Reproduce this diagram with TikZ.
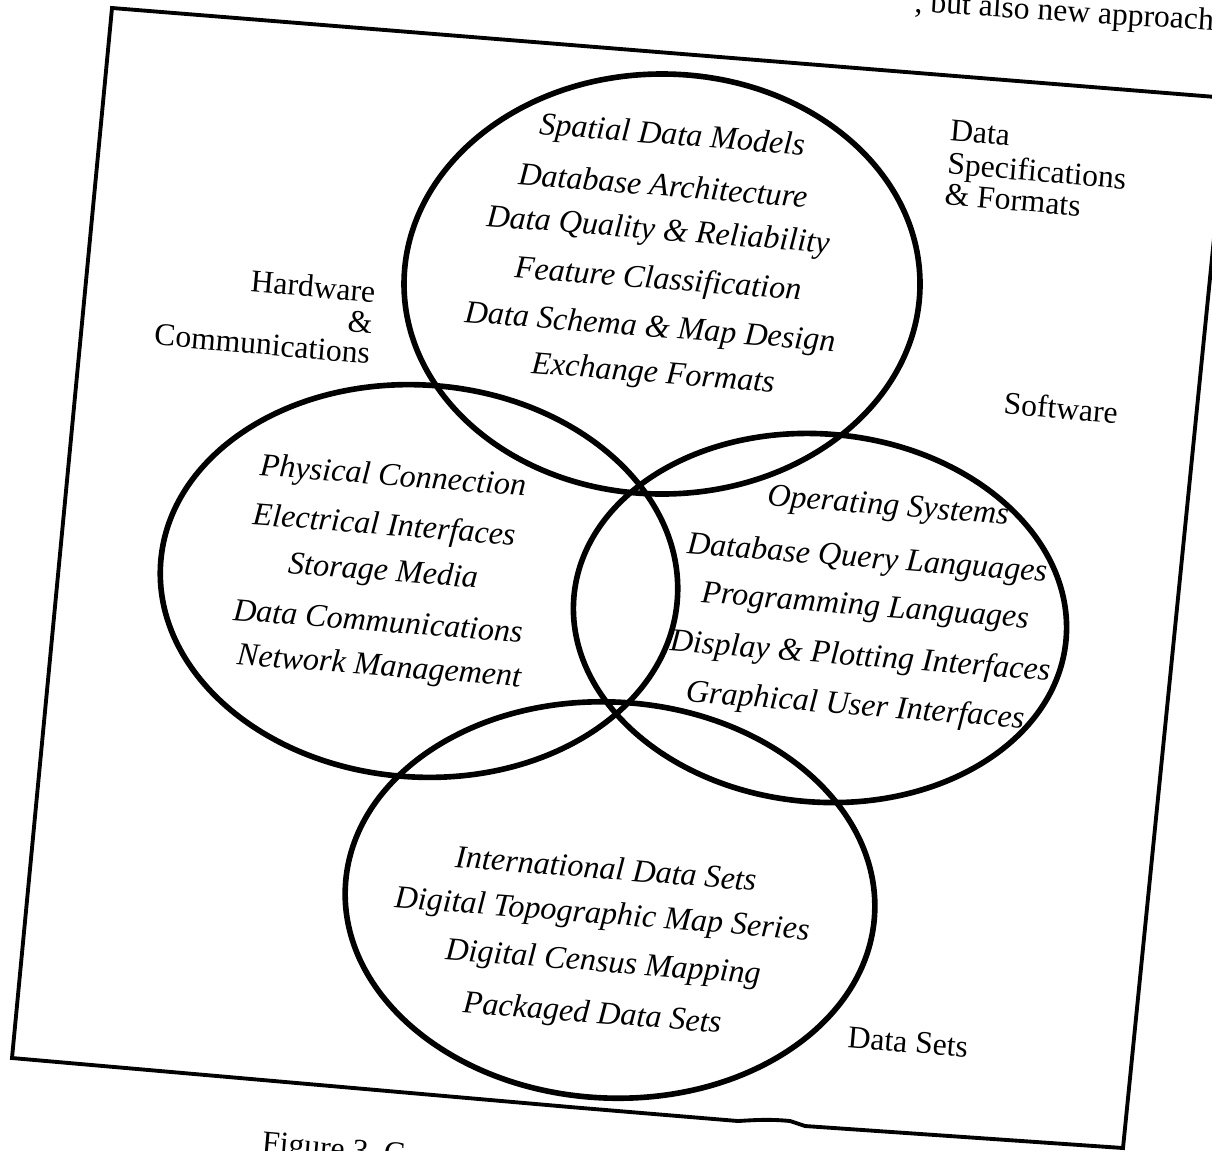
\documentclass[tikz,border=0pt]{standalone}
\usepackage{fontspec}
\setmainfont{Liberation Serif}
\begin{document}
\begin{tikzpicture}[x=0.02cm, y=-0.02cm,
  ring/.style={line width=3.2pt},
  border/.style={line width=2.2pt, line join=miter},
  item/.style={font=\fontsize{18.3}{20}\selectfont\itshape, rotate=-4.5, inner sep=0pt},
  tag/.style={font=\fontsize{18}{17.5}\selectfont, rotate=-5, inner sep=0pt},
  pagetext/.style={font=\fontsize{18}{20}\selectfont, inner sep=0pt},
]
\useasboundingbox (0,0) rectangle (1212,1150);
\begin{scope}
\clip (0,0) rectangle (1212,1150);

% running text and caption of the printed page
\node[pagetext, rotate=-3.5, anchor=base west] (runtext) at (914,12) {, but also new approaches};
\node[pagetext, rotate=-5, anchor=north west] (caption) at (263,1131) {Figure 3.\ C};

% frame around the diagram
\coordinate (tl) at (112,8);
\coordinate (tr) at (1228,98);
\coordinate (br) at (1123,1148);
\coordinate (bl) at (12,1058);
\draw[border] (tl) -- (tr) -- (br) -- (805,1126) -- (790,1121)
  .. controls (770,1119) and (755,1120) .. (738,1121) -- (570,1107) -- (bl) -- cycle;

% the four overlapping domains
\coordinate (cspec) at (662,284);
\coordinate (chard) at (419,581);
\coordinate (csoft) at (820,618);
\coordinate (cdata) at (610,900);
\draw[ring] (cspec) ellipse [x radius=258, y radius=210];
\draw[ring, rotate around={-4:(chard)}] (chard) ellipse [x radius=259, y radius=196];
\draw[ring, rotate around={-5:(csoft)}] (csoft) ellipse [x radius=247, y radius=184];
\draw[ring, rotate around={-3:(cdata)}] (cdata) ellipse [x radius=265, y radius=198];

% domain names
\node[tag, align=left] (lspec) at (1037,170) {Data\\[1.5pt]Specifications\\\& Formats};
\node[tag, align=right] (lhard) at (265,313) {Hardware\\\&\\Communications};
\node[tag] (lsoft) at (1061,408) {Software};
\node[tag] (ldata) at (908,1042) {Data Sets};

% data specifications and formats
\node[item] (s1) at (672,137) {Spatial Data Models};
\node[item] (s2) at (663,185) {Database Architecture};
\node[item] (s3) at (658,232) {Data Quality \& Reliability};
\node[item] (s4) at (658,281) {Feature Classification};
\node[item] (s5) at (650,329) {Data Schema \& Map Design};
\node[item] (s6) at (653,375) {Exchange Formats};

% hardware and communications
\node[item] (h1) at (393,478) {Physical Connection};
\node[item] (h2) at (384,527) {Electrical Interfaces};
\node[item] (h3) at (383,573) {Storage Media};
\node[item] (h4) at (378,621) {Data Communications};
\node[item] (h5) at (379,668) {Network Management};

% software
\node[item] (w1) at (888,508) {Operating Systems};
\node[item] (w2) at (867,560) {Database Query Languages};
\node[item] (w3) at (865,608) {Programming Languages};
\node[item] (w4) at (860,658) {Display \& Plotting Interfaces};
\node[item] (w5) at (855,707) {Graphical User Interfaces};

% data sets
\node[item] (d1) at (606,868) {International Data Sets};
\node[item] (d2) at (602,916) {Digital Topographic Map Series};
\node[item] (d3) at (603,964) {Digital Census Mapping};
\node[item] (d4) at (592,1015) {Packaged Data Sets};
\end{scope}
\end{tikzpicture}
\end{document}
